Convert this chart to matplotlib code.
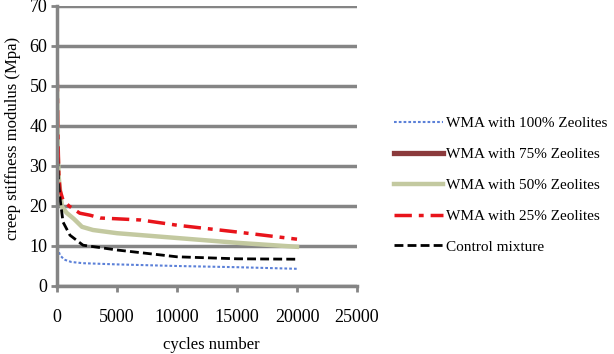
import matplotlib
matplotlib.use("Agg")
import matplotlib.pyplot as plt

plt.rcParams['font.family'] = ['Liberation Serif', 'DejaVu Serif']

# Data (cycles, stiffness)
x_100 = [0, 100, 250, 600, 1200, 2170, 5000, 10000, 15000, 20000]
y_100 = [12, 9, 7.7, 6.6, 6.0, 5.7, 5.4, 5.0, 4.7, 4.3]

x_75 = []
y_75 = []

x_50 = [0, 60, 150, 250, 420, 800, 1400, 2080, 3000, 5000, 10000, 15000, 20000]
y_50 = [50, 33, 27, 24, 19.8, 18.3, 16.8, 14.8, 14.0, 13.2, 12.0, 10.8, 9.8]

x_25 = [0, 60, 150, 250, 500, 1000, 1900, 2750, 3600, 5000, 7000, 10000, 15000, 20000]
y_25 = [62, 40, 28, 24, 21.5, 20.0, 18.2, 17.7, 17.0, 16.8, 16.5, 15.2, 13.5, 11.7]

x_ctrl = [0, 60, 150, 250, 500, 1080, 2170, 5000, 10000, 15000, 20000]
y_ctrl = [55, 32, 25, 22, 16, 12.7, 10.2, 9.0, 7.3, 6.8, 6.7]

labels = ["WMA with 100% Zeolites", "WMA with 75% Zeolites", "WMA with 50% Zeolites",
          "WMA with 25% Zeolites", "Control mixture"]
xticks = [0, 5000, 10000, 15000, 20000, 25000]
yticks = [0, 10, 20, 30, 40, 50, 60, 70]

fig = plt.figure(figsize=(6.14, 3.54), dpi=100)
ax = fig.add_axes([57/614, 1-286/354, 300/614, 280/354])

gray = '#858585'
ax.plot(x_100, y_100, color='#5B80D8', lw=1.5, ls=(0, (1.3, 1.0)), label=labels[0])
ax.plot(x_75, y_75, color='#8B3A3C', lw=3.8, label=labels[1])
ax.plot(x_50, y_50, color='#C3C9A0', lw=3.2, label=labels[2])
ax.plot(x_25, y_25, color='#E8141B', lw=2.5, ls=(0, (5, 2, 1.4, 2)), label=labels[3])
ax.plot(x_ctrl, y_ctrl, color='black', lw=2, ls=(0, (3.2, 1.5)), label=labels[4])

ax.set_xlim(0, 25000)
ax.set_ylim(0, 70)
ax.set_xticks(xticks)
ax.set_yticks(yticks)
ax.yaxis.grid(True, color=gray, lw=2.5)
ax.set_axisbelow(True)
for s in ['top', 'right']:
    ax.spines[s].set_visible(False)
for s in ['left', 'bottom']:
    ax.spines[s].set_color(gray)
    ax.spines[s].set_linewidth(2.5)
ax.tick_params(axis='both', colors=gray, width=2, length=4, labelsize=13, labelcolor='black')
ax.tick_params(axis='x', pad=12.5)
ax.tick_params(axis='y', pad=3)

ax.set_xlabel("cycles number", fontsize=12)
ax.set_ylabel("creep stiffness modulus (Mpa)", fontsize=12)
ax.xaxis.set_label_coords((211-57)/300, (286-337)/280)
ax.yaxis.set_label_coords((21-57)/300, (286-138)/280)

leg = ax.legend(loc='upper left', bbox_to_anchor=(380/614, 1-103/354), bbox_transform=fig.transFigure,
                frameon=False, fontsize=11, handlelength=3.2, labelspacing=1.12, handletextpad=0.25)

fig.savefig("out.png", dpi=100)
